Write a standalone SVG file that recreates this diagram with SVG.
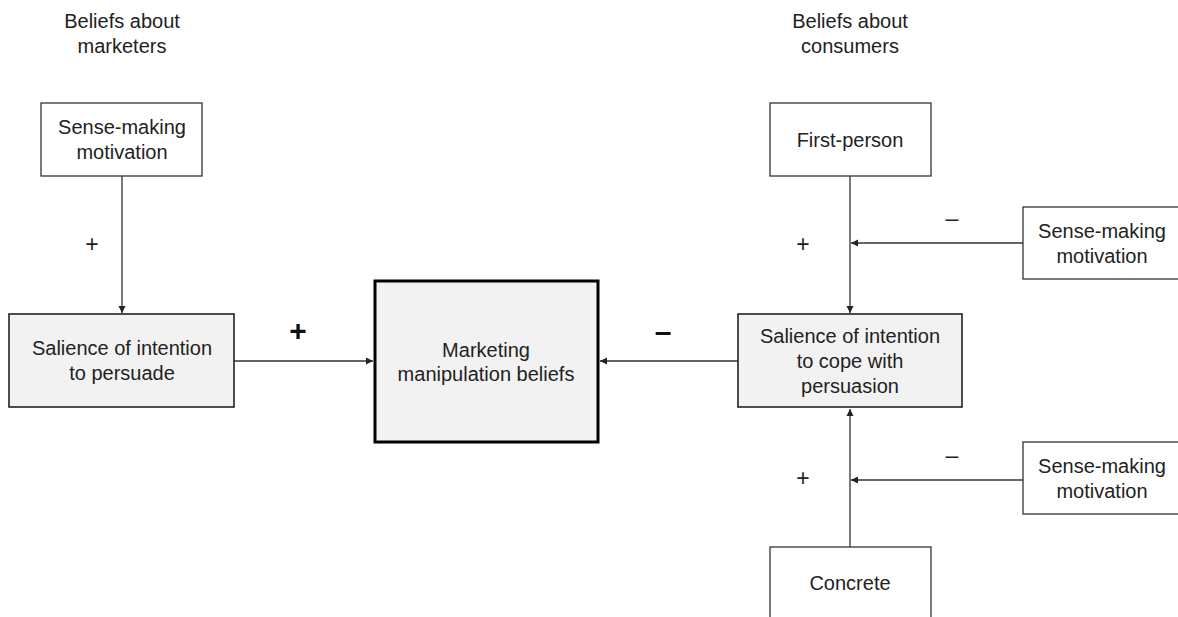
<svg xmlns="http://www.w3.org/2000/svg" width="1178" height="617" viewBox="0 0 1178 617">
<style>
text{font-family:"Liberation Sans",Arial,sans-serif;font-size:20px;fill:#222;text-anchor:middle}
.box{fill:#fff;stroke:#333;stroke-width:1.3}
.sal{fill:#f2f2f2;stroke:#222;stroke-width:1.6}
.main{fill:#f2f2f2;stroke:#000;stroke-width:3}
.conn{stroke:#333;stroke-width:1.3;fill:none}
.big{font-size:30px;font-weight:bold;fill:#111}
.sign{font-size:23px}
</style>
<defs>
<marker id="arr" markerWidth="8" markerHeight="8" refX="7" refY="4" orient="auto" markerUnits="userSpaceOnUse">
<path d="M0,0.5 L7,4 L0,7.5 z" fill="#222"/>
</marker>
</defs>
<g id="header-left"><text x="122" y="28">Beliefs about</text><text x="122" y="53">marketers</text></g>
<g id="header-right"><text x="850" y="28">Beliefs about</text><text x="850" y="53">consumers</text></g>
<g id="connectors">
<line class="conn" x1="122" y1="176" x2="122" y2="313" marker-end="url(#arr)"/>
<line class="conn" x1="234" y1="361" x2="373" y2="361" marker-end="url(#arr)"/>
<line class="conn" x1="738" y1="361" x2="600" y2="361" marker-end="url(#arr)"/>
<line class="conn" x1="850" y1="176" x2="850" y2="313" marker-end="url(#arr)"/>
<line class="conn" x1="1023" y1="243" x2="851" y2="243" marker-end="url(#arr)"/>
<line class="conn" x1="850" y1="547" x2="850" y2="409" marker-end="url(#arr)"/>
<line class="conn" x1="1023" y1="480" x2="851" y2="480" marker-end="url(#arr)"/>
<text class="sign" x="92" y="252">+</text>
<text class="big" x="298" y="341">+</text>
<text class="big" x="663" y="342">–</text>
<text class="sign" x="803" y="252">+</text>
<text class="sign" x="952" y="226">–</text>
<text class="sign" x="803" y="486">+</text>
<text class="sign" x="952" y="463">–</text>
</g>
<g id="sense-left"><rect class="box" x="41" y="103" width="161" height="73"/><text x="122" y="134">Sense-making</text><text x="122" y="159">motivation</text></g>
<g id="salience-persuade"><rect class="sal" x="9" y="314" width="225" height="93"/><text x="122" y="355">Salience of intention</text><text x="122" y="380">to persuade</text></g>
<g id="manipulation"><rect class="main" x="375" y="281" width="223" height="161"/><text x="486" y="357">Marketing</text><text x="486" y="381">manipulation beliefs</text></g>
<g id="salience-cope"><rect class="sal" x="738" y="314" width="224" height="93"/><text x="850" y="343">Salience of intention</text><text x="850" y="368">to cope with</text><text x="850" y="393">persuasion</text></g>
<g id="first-person"><rect class="box" x="770" y="103" width="161" height="73"/><text x="850" y="147">First-person</text></g>
<g id="sense-right-top"><rect class="box" x="1023" y="207" width="160" height="72"/><text x="1102" y="238">Sense-making</text><text x="1102" y="263">motivation</text></g>
<g id="sense-right-bottom"><rect class="box" x="1023" y="442" width="160" height="72"/><text x="1102" y="473">Sense-making</text><text x="1102" y="498">motivation</text></g>
<g id="concrete"><rect class="box" x="770" y="547" width="161" height="80"/><text x="850" y="590">Concrete</text></g>
</svg>
